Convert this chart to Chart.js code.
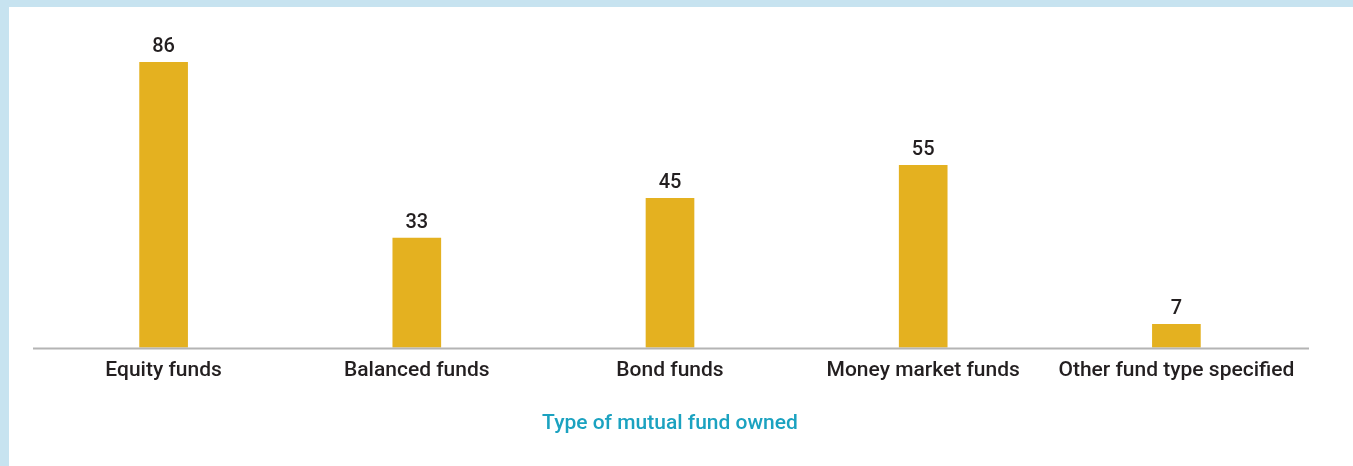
<!DOCTYPE html>
<html>
<head>
<meta charset="utf-8">
<script src="https://cdn.jsdelivr.net/npm/chart.js@4.4.0/dist/chart.umd.min.js"></script>
<style>
  html, body { margin: 0; padding: 0; }
  body { width: 1353px; height: 466px; background: #c7e3f0; overflow: hidden; }
  #panel { position: absolute; left: 9px; top: 7px; width: 1344px; height: 459px; background: #fff; }
</style>
</head>
<body>
<div id="panel"><canvas id="bar-chart" width="1344" height="459"></canvas></div>
<script>
const fundTypes = ['Equity funds', 'Balanced funds', 'Bond funds', 'Money market funds', 'Other fund type specified'];
const fundValues = [86, 33, 45, 55, 7];
const axisTitle = 'Type of mutual fund owned';

const FONT = 'Roboto';
const TEXT = '#231f20';

// value labels above bars + baseline rule a bit wider than the plot area
const extras = {
  id: 'extras',
  afterDatasetsDraw(chart) {
    const ctx = chart.ctx;
    const area = chart.chartArea;
    ctx.save();
    ctx.strokeStyle = '#b4b4b4';
    ctx.lineWidth = 2;
    ctx.beginPath();
    ctx.moveTo(area.left - 4, area.bottom + 1);
    ctx.lineTo(area.right + 6, area.bottom + 1);
    ctx.stroke();

    ctx.fillStyle = TEXT;
    ctx.font = '500 20px ' + FONT;
    ctx.textAlign = 'center';
    ctx.textBaseline = 'alphabetic';
    chart.getDatasetMeta(0).data.forEach((bar, i) => {
      ctx.fillText(fundValues[i], bar.x, bar.y - 10);
    });
    ctx.restore();
  }
};

new Chart(document.getElementById('bar-chart'), {
  type: 'bar',
  data: {
    labels: fundTypes,
    datasets: [{
      data: fundValues,
      backgroundColor: '#e4b120',
      barThickness: 48
    }]
  },
  options: {
    responsive: false,
    animation: false,
    layout: { padding: { top: 9, left: 28, right: 50, bottom: 30 } },
    plugins: { legend: { display: false }, tooltip: { enabled: false } },
    scales: {
      x: {
        grid: { display: false },
        border: { display: false },
        ticks: { color: TEXT, font: { family: FONT, size: 21, weight: '500' }, padding: 3, maxRotation: 0 },
        title: {
          display: true,
          text: axisTitle,
          color: '#1ba2c0',
          font: { family: FONT, size: 21, weight: '500' },
          padding: { top: 24, bottom: 0 }
        }
      },
      y: { display: false, min: 0, max: 100 }
    }
  },
  plugins: [extras]
});
</script>
</body>
</html>
